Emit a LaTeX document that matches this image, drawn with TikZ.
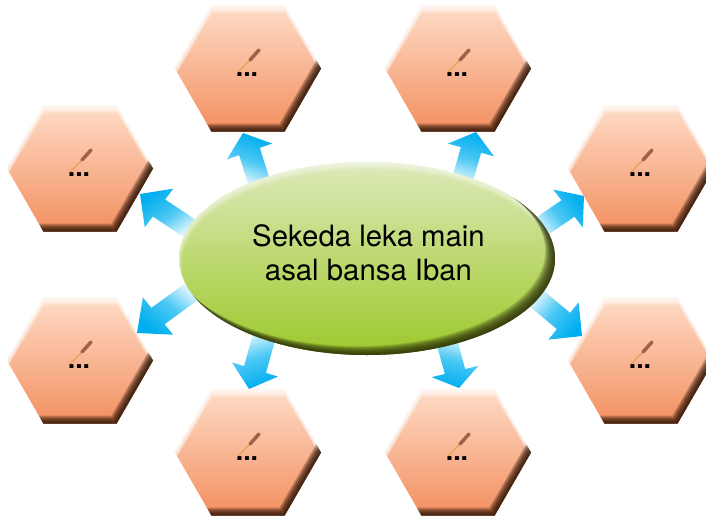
\documentclass[tikz,border=0pt]{standalone}
\usepackage{fontspec}
\setmainfont{TeX Gyre Heros}
\usetikzlibrary{shapes.geometric,calc}
\definecolor{hextop}{HTML}{FEDCC8}
\definecolor{hexbot}{HTML}{F38F5F}
\definecolor{hexdark}{HTML}{2E1405}
\definecolor{hubtop}{HTML}{DDEABB}
\definecolor{hubmid}{HTML}{BDD971}
\definecolor{hubbot}{HTML}{9DC82C}
\definecolor{hubdark}{HTML}{2C300A}
\definecolor{arrowtip}{HTML}{00AEEF}
\definecolor{arrowmid}{HTML}{4CC8F4}
\definecolor{arrowtail}{HTML}{FFFFFF}
\definecolor{penbody}{HTML}{A2604A}
\definecolor{pennib}{HTML}{E39A3C}
\newcommand{\hexring}[4]{% dx dy radius colour
  \pgfmathsetmacro{\rr}{#3}\pgfmathsetmacro{\dx}{#1}\pgfmathsetmacro{\dy}{#2}
  \fill[#4,even odd rule,opacity=.22]
    (-90,-80) rectangle (90,80)
    (\dx+\rr,\dy) -- (\dx+\rr/2,\dy+.866*\rr) -- (\dx-\rr/2,\dy+.866*\rr) -- (\dx-\rr,\dy) -- (\dx-\rr/2,\dy-.866*\rr) -- (\dx+\rr/2,\dy-.866*\rr) -- cycle;}
\tikzset{
  hexnode/.style={regular polygon,regular polygon sides=6,minimum size=109.5pt,inner sep=0pt,outer sep=0pt,
    shade,top color=hextop,bottom color=hexbot,
    path picture={
      \begin{scope}[shift={(path picture bounding box.center)},x=.75pt,y=-.75pt]
        \foreach \s in {1,...,8}{\hexring{.1*\s}{\s}{74-.05*\s}{white}}
        \foreach \s in {1,...,9}{\hexring{-.62*\s}{-\s}{74}{hexdark}}
        \draw[pennib,line width=.75pt] (-10,3.5) -- (2,-8.5);
        \draw[penbody,line width=2.6pt,line cap=round] (2,-8.5) -- (11,-18.5);
      \end{scope}}},
  dotsnode/.style={inner sep=0pt,font=\bfseries\fontsize{20}{20}\selectfont,anchor=base},
  hubnode/.style={ellipse,minimum width=282pt,minimum height=144.75pt,inner sep=0pt,outer sep=0pt,
    shade,top color=hubtop,bottom color=hubbot,middle color=hubmid},
  hubtext/.style={inner sep=0pt,align=center,font=\fontsize{22}{25.5}\selectfont},
  blockshade/.style={bottom color=arrowtail,top color=arrowtip,middle color=arrowmid,shading angle=#1}
}
\newcommand{\hexa}[3]{%
  \node[hexnode] (#1) at (#2,#3) {};
  \node[dotsnode] (#1d) at ($(#1)+(-1,8)$) {...};}
% tail, head base, tip, half shaft, half head, shading angle
\newcommand{\blockarrow}[7]{%
  \coordinate (#1t) at (#2);
  \coordinate (#1b) at (#3);
  \coordinate (#1p) at (#4);
  \shade[blockshade=#7]
    ($(#1t)!#5*.75pt!90:(#1p)$) -- ($(#1b)!#5*.75pt!90:(#1p)$) -- ($(#1b)!#6*.75pt!90:(#1p)$) -- (#1p) --
    ($(#1b)!#6*.75pt!-90:(#1p)$) -- ($(#1b)!#5*.75pt!-90:(#1p)$) -- ($(#1t)!#5*.75pt!-90:(#1p)$) -- cycle;}
\begin{document}
\begin{tikzpicture}[x=.75pt,y=-.75pt]
\useasboundingbox (0,0) rectangle (706,517);
\fill[white] (0,0) rectangle (706,517);
\begin{scope}
\clip (0,0) rectangle (706,517);
\hexa{ha}{248}{68.5}
\hexa{hb}{458}{68.5}
\hexa{hc}{80}{168.5}
\hexa{hd}{641}{168.5}
\hexa{he}{80}{360.5}
\hexa{hf}{641}{360.5}
\hexa{hg}{248}{452.5}
\hexa{hh}{458}{452.5}
\end{scope}
\blockarrow{aa}{260,185}{249.5,151.5}{243,133}{11}{24}{-18.4}
\blockarrow{ab}{461,185}{471,150}{476,132}{10.5}{24}{-15.5}
\blockarrow{ac}{195,232}{159,208}{140,194}{10.5}{24}{36}
\blockarrow{ad}{535,231}{568,208.5}{584,196}{10.5}{24}{-52}
\blockarrow{ae}{198,287}{158,316}{137,333}{10.5}{24}{141}
\blockarrow{af}{530,293}{563.5,321}{582,336}{10.5}{24}{-130}
\blockarrow{ag}{266,330}{255,369.5}{249,389}{11.5}{24}{197}
\blockarrow{ah}{445,335}{455,371.5}{459,388}{10.5}{24}{166}
\node[hubnode] (hub) at (367,258.5) {};
\begin{scope}[shift={(hub.center)}]
  \clip (0,0) ellipse [x radius=188,y radius=96.5];
  \foreach \s in {1,...,6}{\fill[white,even odd rule,opacity=.12] (-200,-110) rectangle (200,110) (.2*\s,\s) ellipse [x radius=188-.2*\s,y radius=96.5-.2*\s];}
  \foreach \s in {1,...,11}{\fill[hubdark,even odd rule,opacity=.17] (-200,-110) rectangle (200,110) (-.8*\s,-.7*\s) ellipse [x radius=188-.1*\s,y radius=96.5-.1*\s];}
\end{scope}
\node[hubtext] (hubt) at ($(hub)+(1.5,-5.5)$) {Sekeda leka main\\asal bansa Iban};
\end{tikzpicture}
\end{document}
